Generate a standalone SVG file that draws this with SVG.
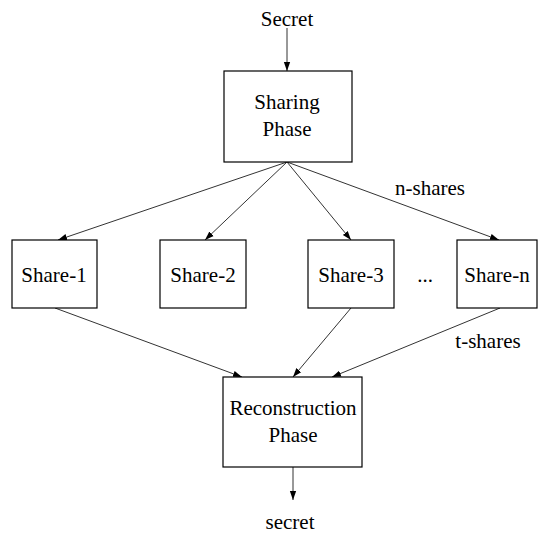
<svg xmlns="http://www.w3.org/2000/svg" width="538" height="533" viewBox="0 0 538 533">
<style>
.box{fill:#fff;stroke:#000;stroke-width:1.2}
.t{font-family:'Liberation Serif','Times New Roman',Times,serif;font-size:21px;fill:#000;text-anchor:middle}
.c{stroke:#333;stroke-width:1;fill:none;marker-end:url(#a)}
</style>
<defs>
<marker id="a" viewBox="0 0 10 10" refX="10" refY="5" markerWidth="9" markerHeight="9" markerUnits="userSpaceOnUse" orient="auto">
<path d="M0,1.5 L10,5 L0,8.5 Z" fill="#000"/>
</marker>
</defs>
<rect width="538" height="533" fill="#fff"/>
<g id="connectors">
<line class="c" x1="287" y1="28" x2="287" y2="71"/>
<line class="c" x1="287" y1="162" x2="58" y2="240"/>
<line class="c" x1="287" y1="162" x2="205" y2="240"/>
<line class="c" x1="287" y1="162" x2="351" y2="240"/>
<line class="c" x1="287" y1="162" x2="499" y2="240"/>
<line class="c" x1="55" y1="308" x2="242" y2="377"/>
<line class="c" x1="351" y1="308" x2="293" y2="377"/>
<line class="c" x1="500" y1="308" x2="332" y2="377"/>
<line class="c" x1="293" y1="467" x2="293" y2="500"/>
</g>
<g id="secret-in"><text class="t" x="287" y="26">Secret</text></g>
<g id="sharing"><rect class="box" x="224" y="71" width="128" height="91"/><text class="t" x="287" y="109">Sharing</text><text class="t" x="287" y="136">Phase</text></g>
<g id="share1"><rect class="box" x="12" y="240" width="85" height="68"/><text class="t" x="54" y="282">Share-1</text></g>
<g id="share2"><rect class="box" x="160" y="240" width="86" height="68"/><text class="t" x="203" y="282">Share-2</text></g>
<g id="share3"><rect class="box" x="308" y="240" width="86" height="68"/><text class="t" x="351" y="282">Share-3</text></g>
<g id="dots"><text class="t" x="425" y="282">...</text></g>
<g id="sharen"><rect class="box" x="457" y="240" width="80" height="68"/><text class="t" x="497" y="282">Share-n</text></g>
<g id="nshares"><text class="t" x="430" y="195">n-shares</text></g>
<g id="tshares"><text class="t" x="488" y="348">t-shares</text></g>
<g id="recon"><rect class="box" x="223" y="377" width="139" height="90"/><text class="t" x="293" y="415">Reconstruction</text><text class="t" x="293" y="442">Phase</text></g>
<g id="secret-out"><text class="t" x="290" y="529">secret</text></g>
</svg>
